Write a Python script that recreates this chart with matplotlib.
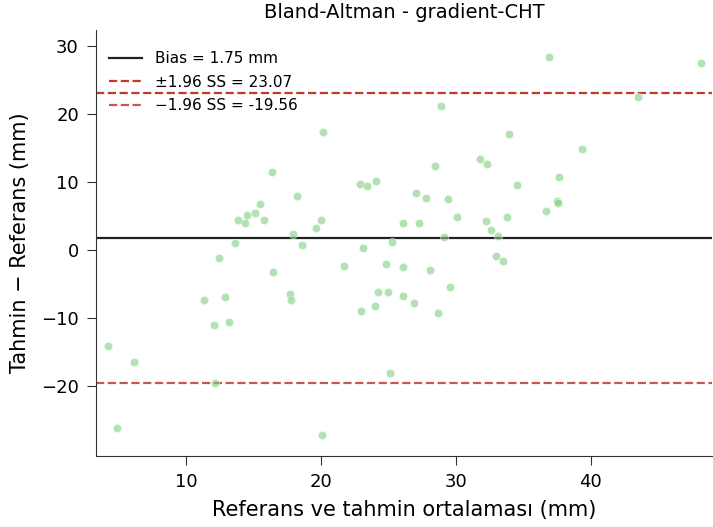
import numpy as np
import matplotlib
matplotlib.use("Agg")
import matplotlib.pyplot as plt

# mean of reference & prediction (mm)
mean_vals = [4.2, 4.9, 6.15, 11.35, 12.05, 12.15, 12.45, 12.9, 13.2, 13.6,
             13.85, 14.4, 14.5, 15.1, 15.5, 15.8, 16.4, 16.45, 17.7, 17.75,
             17.9, 18.2, 18.6, 19.6, 20.0, 20.15, 20.1, 21.7, 22.9, 23.0,
             23.1, 23.4, 24.1, 24.25, 24.0, 24.85, 24.95, 25.1, 25.3, 26.1,
             26.1, 26.1, 26.9, 27.05, 27.3, 27.8, 28.1, 28.45, 28.7, 28.9,
             29.1, 29.4, 29.6, 30.1, 31.75, 32.3, 32.2, 32.6, 32.95, 33.1,
             33.5, 33.95, 33.8, 34.5, 36.7, 36.9, 37.5, 37.6, 37.65, 39.35,
             43.5, 48.2]
# prediction - reference (mm)
diff_vals = [-14.1, -26.2, -16.5, -7.4, -11.0, -19.6, -1.2, -6.9, -10.6, 1.0,
             4.4, 4.0, 5.1, 5.4, 6.8, 4.4, 11.5, -3.2, -6.5, -7.4,
             2.3, 7.9, 0.7, 3.2, 4.4, 17.4, -27.3, -2.4, 9.7, -9.0,
             0.3, 9.4, 10.1, -6.2, -8.3, -2.0, -6.2, -18.1, 1.2, -6.7,
             4.0, -2.5, -7.8, 8.4, 4.0, 7.7, -2.9, 12.4, -9.3, 21.2,
             1.9, 7.5, -5.4, 4.9, 13.4, 12.7, 4.3, 2.9, -0.9, 2.1,
             -1.6, 17.1, 4.9, 9.6, 5.7, 28.5, 7.2, 6.9, 10.8, 14.9,
             22.6, 27.5]

bias = 1.75
upper = 23.07
lower = -19.56

fig = plt.figure(figsize=(7.13, 5.27), dpi=100)
ax = fig.add_axes([0.135, 0.135, 0.864, 0.808])

ax.scatter(mean_vals, diff_vals, s=36, color="#7fcf7f", alpha=0.6,
           edgecolors="white", linewidths=0.5, zorder=3)
ax.axhline(bias, color="#222222", lw=1.6, label=f"Bias = {bias:.2f} mm")
ax.axhline(upper, color="#c0392b", lw=1.6, ls="--", label=f"±1.96 SS = {upper:.2f}")
ax.axhline(lower, color="#c0392b", lw=1.6, ls="--", alpha=0.85,
           label=f"\u22121.96 SS = {lower:.2f}")

ax.set_xlim(3.35, 49.0)
ax.set_ylim(-30.3, 32.4)
ax.set_xticks([10, 20, 30, 40])
ax.set_yticks([-20, -10, 0, 10, 20, 30])
ax.tick_params(labelsize=13, length=6.5, pad=6, color="#333333")

for side in ["top", "right"]:
    ax.spines[side].set_visible(False)
for side in ["left", "bottom"]:
    ax.spines[side].set_color("#333333")

ax.set_title("Bland-Altman - gradient-CHT", fontsize=14, pad=9)
ax.set_xlabel("Referans ve tahmin ortalaması (mm)", fontsize=15, labelpad=6)
ax.set_ylabel("Tahmin \u2212 Referans (mm)", fontsize=15, labelpad=8)
ax.legend(loc="upper left", bbox_to_anchor=(0.003, 0.975), frameon=False,
          fontsize=11, handlelength=2.2, borderaxespad=0.3, labelspacing=0.55)

fig.savefig("out.png", dpi=100)
